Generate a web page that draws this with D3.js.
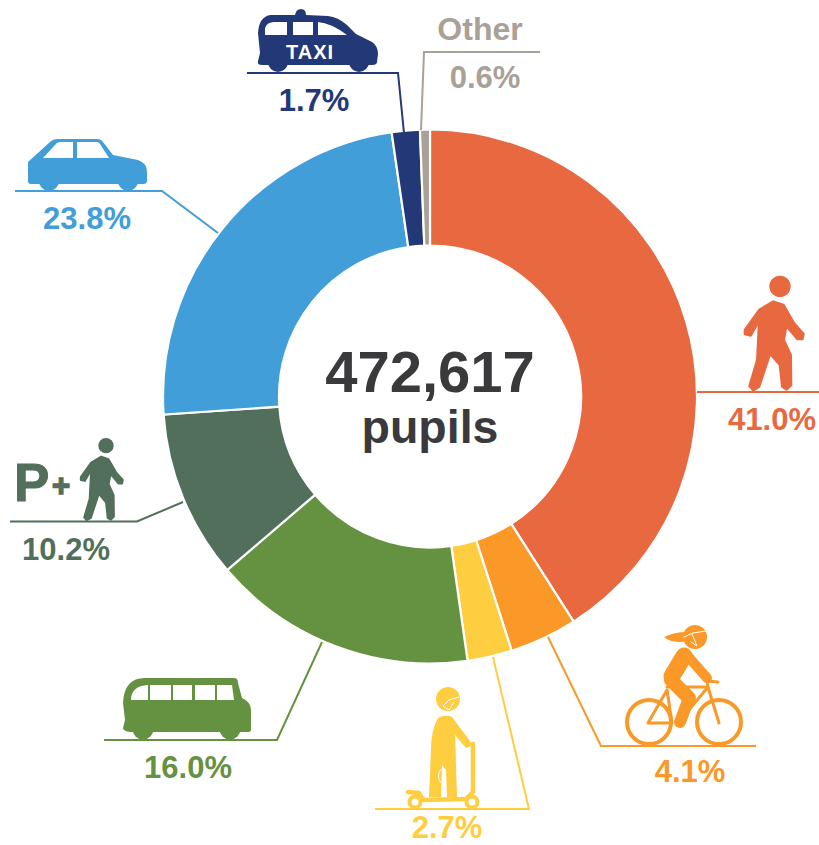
<!DOCTYPE html>
<html lang="en">
<head>
<title>Pupils by mode of travel</title>
<meta charset="UTF-8">
<script src="https://d3js.org/d3.v7.min.js"></script>
<style>
  html, body { margin: 0; background: #fff; }
  text { font-family: "Liberation Sans", Arial, sans-serif; font-weight: bold; }
</style>
</head>
<body>
<svg id="viz" width="819" height="845" style="display:block"></svg>
<script>
const categories = ["Walk", "Cycle", "Scooter", "Bus", "Park and stride", "Car", "Taxi", "Other"]
const shares = [41.0, 4.1, 2.7, 16.0, 10.2, 23.8, 1.7, 0.6]
const shareLabels = ["41.0%", "4.1%", "2.7%", "16.0%", "10.2%", "23.8%", "1.7%", "0.6%"]
const colours = ["#e8683f", "#fa9828", "#ffcd40", "#659240", "#526f5b", "#429ed8", "#233876", "#a9a096"]
const totalLabel = "472,617"
const unitLabel = "pupils"

// leader lines and label spots, same order as categories
const leaders = [
  [[697, 392], [819, 392]],
  [[548, 637], [601, 746], [756, 746]],
  [[493, 657], [529, 809], [375, 809]],
  [[322, 642], [277, 740], [104, 740]],
  [[183, 502], [137, 521.5], [10, 521.5]],
  [[218, 233], [162, 191], [15, 191]],
  [[404, 133], [398, 73], [247, 73]],
  [[421, 130], [424, 52], [540, 52]]
]
const labelSpots = [[772, 430], [690, 782], [447, 838], [188, 778], [66, 560], [87, 229], [314, 111], [485, 88]]

const svg = d3.select("#viz")
const cx = 430, cy = 396.5

const pie = d3.pie().sort(null).value(d => d)
const arc = d3.arc().innerRadius(151).outerRadius(267)

// donut
svg.append("g").attr("transform", `translate(${cx},${cy})`)
  .selectAll("path")
  .data(pie(shares))
  .join("path")
    .attr("d", arc)
    .attr("fill", (d, i) => colours[i])
    .attr("stroke", "#fff")
    .attr("stroke-width", 2.2)

// leaders
const line = d3.line()
svg.append("g").selectAll("path")
  .data(leaders)
  .join("path")
    .attr("d", line)
    .attr("fill", "none")
    .attr("stroke", (d, i) => colours[i])
    .attr("stroke-width", 2)

// percentages
svg.append("g").selectAll("text")
  .data(shareLabels)
  .join("text")
    .attr("x", (d, i) => labelSpots[i][0])
    .attr("y", (d, i) => labelSpots[i][1])
    .attr("text-anchor", "middle")
    .attr("font-size", 31)
    .attr("fill", (d, i) => colours[i])
    .text(d => d)

// centre text
svg.append("text").attr("x", cx).attr("y", 392).attr("text-anchor", "middle")
  .attr("font-size", 58).attr("fill", "#3a3a3c").text(totalLabel)
svg.append("text").attr("x", cx).attr("y", 443).attr("text-anchor", "middle")
  .attr("font-size", 46.5).attr("fill", "#3a3a3c").text(unitLabel)
svg.append("text").attr("x", 480).attr("y", 40).attr("text-anchor", "middle")
  .attr("font-size", 32).attr("fill", colours[7]).text("Other")

// icons
function limb(g, pts, w, col) {
  g.append("path").attr("d", d3.line()(pts))
    .attr("fill", "none").attr("stroke", col).attr("stroke-width", w)
    .attr("stroke-linecap", "round").attr("stroke-linejoin", "round")
}

// walker outline traced at 3x, ground line at y 393
const walkerOutline = [[250,125],[280,135],[312,190],[340,222],[337,237],[322,237],[289,197],[281,240],[302,285],[303,375],[290,388],[277,380],[270,315],[240,280],[207,380],[190,390],[179,378],[202,300],[208,180],[182,226],[165,222],[165,210],[208,150]]

function walker(x, y, s, col) {
  const g = svg.append("g").attr("transform", `translate(${x},${y}) scale(${s / 3}) translate(-270,-393)`)
  g.append("circle").attr("cx", 270).attr("cy", 79).attr("r", 32).attr("fill", col)
  g.append("path").attr("fill", col).attr("stroke", col).attr("stroke-width", 8).attr("stroke-linejoin", "round")
    .attr("d", d3.line().curve(d3.curveLinearClosed)(walkerOutline))
}
walker(780, 391, 1, colours[0])
walker(106, 521, 0.72, colours[4])

svg.append("text").attr("x", 14).attr("y", 501).attr("font-size", 53)
  .attr("fill", colours[4]).attr("stroke", colours[4]).attr("stroke-width", 1).text("P")
svg.append("text").attr("x", 61).attr("y", 496).attr("text-anchor", "middle").attr("font-size", 31)
  .attr("fill", colours[4]).attr("stroke", colours[4]).attr("stroke-width", 1.5).text("+")

// car
const carCol = colours[5]
const car = svg.append("g")
car.append("path").attr("fill", carCol).attr("d",
  "M28,181 L28,162 L50,142 Q53,139 57,139 L97,139 Q101,139 103,142 L113,155 L138,160 Q147,163 147,172 L147,181 Q147,184 143,184 L31,184 Q28,184 28,181 Z")
for (const wx of [49, 128]) {
  car.append("circle").attr("cx", wx).attr("cy", 181).attr("r", 10).attr("fill", carCol)
}
car.append("path").attr("fill", "#fff").attr("d",
  "M43,158 L55,145 Q57,142 60,142 L73,142 L73,158 Z M77,142 L97,142 Q99,142 100,144 L109,158 L77,158 Z")

// taxi
const taxiCol = colours[6]
const taxi = svg.append("g")
taxi.append("path").attr("fill", taxiCol).attr("d",
  "M258,61 L260,53 L258,33 Q259,17 270,15 L295,15 Q296,9 301,9 Q306,9 306,15 L328,16 Q338,17 347,25 L356,34 L372,42 Q378,46 378,54 L377,62 Q377,65 372,65 L262,65 Q257,65 258,61 Z")
for (const wx of [278, 359]) {
  taxi.append("circle").attr("cx", wx).attr("cy", 62).attr("r", 10).attr("fill", taxiCol)
}
taxi.append("path").attr("fill", "#fff").attr("d",
  "M265,35 L265,28 Q267,22 274,22 L287,22 L287,35 Z M293,22 L313,22 L313,35 L293,35 Z M318,22 Q331,23 347,35 L318,35 Z")
taxi.append("text").attr("x", 310).attr("y", 58.5).attr("text-anchor", "middle")
  .attr("font-size", 20).attr("letter-spacing", 1).attr("fill", "#fff").text("TAXI")

// bus
const busCol = colours[3]
const bus = svg.append("g")
bus.append("path").attr("fill", busCol).attr("d",
  "M123,728 L125,720 L123,703 Q124,678 145,678 L234,678 Q238,678 238,683 L242,698 Q251,702 251,710 L251,730 Q251,732 247,732 L130,732 Q123,731 123,728 Z")
for (const wx of [143, 230]) {
  bus.append("circle").attr("cx", wx).attr("cy", 729).attr("r", 10.5).attr("fill", busCol)
}
bus.append("path").attr("fill", "#fff").attr("d",
  "M131,700 Q131,686 148,685 L148,700 Z M150,685 L171,685 L171,700 L150,700 Z M173,685 L192,685 L192,700 L173,700 Z M195,685 L215,685 L215,700 L195,700 Z M217,685 L232,685 L234,700 L217,700 Z")

// cyclist
const bikeCol = colours[1]
const bike = svg.append("g")
for (const wx of [649, 719]) {
  bike.append("circle").attr("cx", wx).attr("cy", 722).attr("r", 22)
    .attr("fill", "none").attr("stroke", bikeCol).attr("stroke-width", 4)
}
limb(bike, [[648, 723], [667, 690], [672, 723], [648, 723]], 3, bikeCol)
limb(bike, [[667, 687], [708, 687], [678, 723]], 3, bikeCol)
limb(bike, [[719, 723], [708, 687], [707, 681], [718, 682]], 3, bikeCol)
bike.append("circle").attr("cx", 695).attr("cy", 637).attr("r", 12).attr("fill", bikeCol)
bike.append("path").attr("fill", bikeCol).attr("d", "M664,637 Q675,632 686,632 L688,641 Q672,644 664,637 Z")
limb(bike, [[684, 656], [672, 676]], 17, bikeCol)
limb(bike, [[686, 654], [707, 678]], 10, bikeCol)
limb(bike, [[671, 680], [689, 698]], 14, bikeCol)
limb(bike, [[689, 698], [680, 722]], 12, bikeCol)
limb(bike, [[684, 637], [693, 633], [706, 631]], 1, "#fff")
limb(bike, [[692, 634], [697, 646], [691, 642]], 1, "#fff")

// scooter rider
const scootCol = colours[2]
const scoot = svg.append("g")
scoot.append("circle").attr("cx", 448).attr("cy", 699).attr("r", 12).attr("fill", scootCol)
scoot.append("path").attr("fill", scootCol).attr("d",
  "M438,718 Q445,714 452,717 L470,741 L472,746 L466,748 L455,735 L457,797 L447,797 L446,770 L442,765 L441,797 L429,797 L431,750 Q431,730 438,718 Z")
limb(scoot, [[473, 744], [473, 792], [466, 799], [423, 800], [419, 793], [408, 792]], 4.5, scootCol)
for (const wx of [415, 472]) {
  scoot.append("circle").attr("cx", wx).attr("cy", 802).attr("r", 5.5)
    .attr("fill", "#fff").attr("stroke", scootCol).attr("stroke-width", 4)
}
limb(scoot, [[449, 700], [459, 697]], 1, "#fff")
limb(scoot, [[449, 700], [443, 706], [449, 710], [454, 702]], 1, "#fff")
scoot.append("path").attr("d", "M441,769 Q436,776 441,783 M456,762 Q460,768 456,775")
  .attr("fill", "none").attr("stroke", "#fff").attr("stroke-width", 1)
</script>
</body>
</html>
